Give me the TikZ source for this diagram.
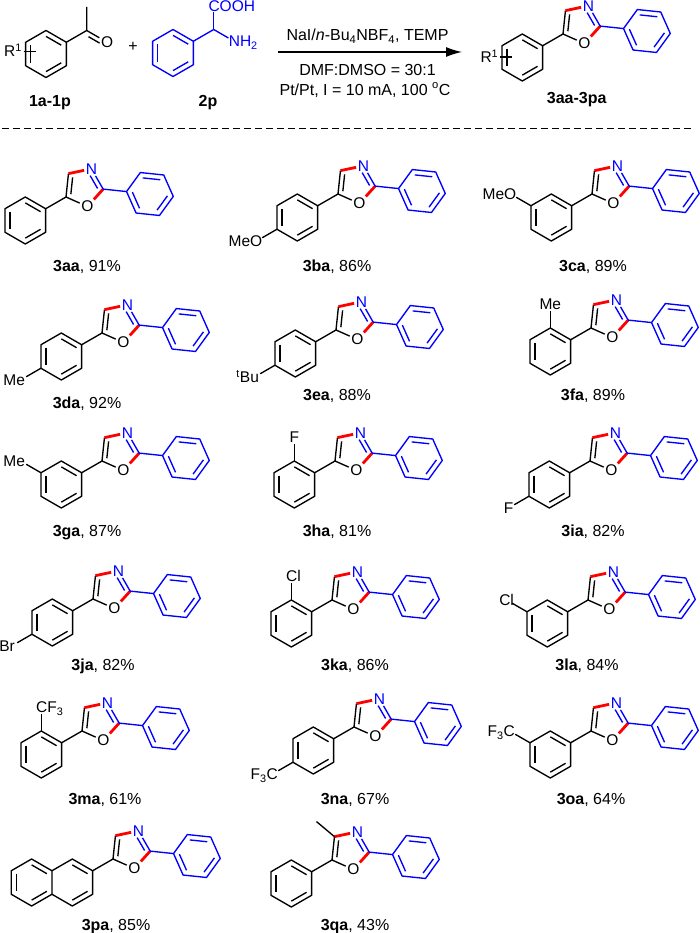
\documentclass[tikz,border=0pt]{standalone}
\usepackage{fontspec}
\setmainfont{Liberation Sans}
\usetikzlibrary{calc,arrows.meta}

\tikzset{
  bond/.style={line width=1.35pt, line join=round},
  redbond/.style={line width=2.8pt, red},
  bluebond/.style={bond, blue},
  atom/.style={inner sep=1.5pt, font=\fontsize{15.5}{15.5}\selectfont, text height=10.8pt, text depth=0pt},
  cpdlbl/.style={font=\fontsize{16}{16}\selectfont, inner sep=0pt, anchor=base},
  cond/.style={font=\fontsize{16}{16}\selectfont, inner sep=0pt, anchor=base},
}

% inner line of a ring double bond: centre, two ring atoms
\newcommand{\dbl}[4][bond]{\draw[#1] ($(#2)!0.75!(#3)$) -- ($(#2)!0.75!(#4)$);}

% oxazole with its blue 2-phenyl, C5 at the origin
\newcommand{\oxaz}{%
  \coordinate (c5) at (0,0);
  \coordinate (oc) at (30:0.85);
  \coordinate (c4) at ($(oc)+(138:0.85)$);
  \coordinate (c2) at ($(oc)+(-6:0.85)$);
  \node[atom, text=blue] (n3) at ($(oc)+(66:0.85)$) {N};
  \node[atom] (o1) at ($(oc)+(-78:0.85)$) {O};
  \draw[bond] (o1) -- (c5) -- (c4);
  \draw[bond] ($(oc)!0.72!(c5)$) -- ($(oc)!0.72!(c4)$);
  \draw[redbond] (c4) -- (n3);
  \draw[redbond] (c2) -- (o1);
  \draw[bluebond] (n3) -- (c2);
  \draw[bluebond, shorten <=2pt] ($(oc)!0.72!(n3)$) -- ($(oc)!0.72!(c2)$);
  \coordinate (pc) at ($(c2)+(-6:2)$);
  \foreach \a [count=\i from 0] in {174,234,...,474}
    \coordinate (p\i) at ($(pc)+(\a:1)$);
  \draw[bluebond] (c2) -- (p0);
  \draw[bluebond] (p0) -- (p1) -- (p2) -- (p3) -- (p4) -- (p5) -- cycle;
  \dbl[bluebond]{pc}{p0}{p1}\dbl[bluebond]{pc}{p2}{p3}\dbl[bluebond]{pc}{p4}{p5}}

% benzene ring hanging from C5
\newcommand{\arylring}{%
  \coordinate (ac) at (210:2);
  \foreach \a in {30,90,...,330}
    \coordinate (r\a) at ($(ac)+(\a:1)$);
  \draw[bond] (c5) -- (r30);
  \draw[bond] (r30) -- (r90) -- (r150) -- (r210) -- (r270) -- (r330) -- cycle;
  \dbl{ac}{r90}{r30}\dbl{ac}{r150}{r210}\dbl{ac}{r270}{r330}}

% substituent: ring atom, direction, label options, label
\newcommand{\subst}[4]{%
  \coordinate (sb) at ($(#1)+(#2:1)$);
  \draw[bond, shorten >=6.5pt] (#1) -- (sb);
  \node[atom, #3] (sl) at (sb) {#4};}

% one product, C5 at (#1,#2) counted from the top left
\newcommand{\mol}[3]{\begin{scope}[shift={(#1pt,-#2pt)}, x=23.5pt, y=23.5pt]#3\end{scope}}

\begin{document}
\begin{tikzpicture}[x=1pt, y=1pt]
  \useasboundingbox (0,0) rectangle (700,-933);

  % acetophenone
  \begin{scope}[shift={(46pt,-54pt)}, x=23.5pt, y=23.5pt]
    \coordinate (kc) at (0,0);
    \foreach \a in {30,90,...,330}
      \coordinate (k\a) at (\a:1);
    \draw[bond] (k30) -- (k90) -- (k150) -- (k210) -- (k270) -- (k330) -- cycle;
    \dbl{kc}{k90}{k30}\dbl{kc}{k150}{k210}\dbl{kc}{k270}{k330}
    \coordinate (co) at ($(k30)+(30:1)$);
    \coordinate (me) at ($(co)+(90:1)$);
    \node[atom] (ok) at ($(co)+(-30:1)$) {O};
    \draw[bond] (k30) -- (co) -- (me);
    \draw[bond] (co) -- (ok);
    \draw[bond, shorten >=6pt] ($(co)!0.2!(ok.center)+(-120:0.19)$) -- ($(ok.center)+(-120:0.19)$);
    \node[atom, anchor=east] (rk) at (-0.95,0.12) {R\textsuperscript{1}};
    \coordinate (rin) at (-0.42,0.12);
    \draw[bond] (rk.east) -- (rin);
  \end{scope}
  \node[font=\fontsize{16}{16}\selectfont] (plus) at (133,-47) {+};

  % phenylglycine
  \begin{scope}[shift={(173pt,-53pt)}, x=23.5pt, y=23.5pt]
    \coordinate (gc) at (0,0);
    \foreach \a in {30,90,...,330}
      \coordinate (g\a) at (\a:1);
    \draw[bluebond] (g30) -- (g90) -- (g150) -- (g210) -- (g270) -- (g330) -- cycle;
    \dbl[bluebond]{gc}{g90}{g30}\dbl[bluebond]{gc}{g150}{g210}\dbl[bluebond]{gc}{g270}{g330}
    \coordinate (ca) at ($(g30)+(30:1)$);
    \coordinate (cooh) at ($(ca)+(90:1)$);
    \coordinate (nh) at ($(ca)+(-30:1)$);
    \draw[bluebond] (g30) -- (ca);
    \draw[bluebond, shorten >=6.5pt] (ca) -- (cooh);
    \draw[bluebond, shorten >=6.5pt] (ca) -- (nh);
    \node[atom, text=blue, anchor=west, xshift=-6.9pt] (cx) at (cooh) {COOH};
    \node[atom, text=blue, anchor=west, xshift=-6.9pt] (nx) at (nh) {NH\textsubscript{2}};
  \end{scope}

  % arrow and conditions
  \coordinate (ar1) at (278,-52);
  \coordinate (ar2) at (462,-52);
  \draw[bond, -{Latex[length=16pt, width=10pt]}] (ar1) -- (ar2);
  \node[cond] (cond1) at (367.5,-40.8) {NaI/\textit{n}-Bu\textsubscript{4}NBF\textsubscript{4}, TEMP};
  \node[cond] (cond2) at (367.5,-75.1) {DMF:DMSO = 30:1};
  \node[cond] (cond3) at (365,-95.1) {Pt/Pt, I = 10 mA, 100 \textsuperscript{o}C};

  % general product
  \mol{563}{34}{\oxaz\arylring
    \node[atom, anchor=east] (rp) at ($(ac)+(-0.95,0.02)$) {R\textsuperscript{1}};
    \coordinate (rpin) at ($(ac)+(-0.42,0.02)$);
    \draw[bond] (rp.east) -- (rpin);}

  \node[cpdlbl] (l1) at (50,-106.7) {\textbf{1a-1p}};
  \node[cpdlbl] (l2) at (208,-106.7) {\textbf{2p}};
  \node[cpdlbl] (l3) at (576.7,-103.5) {\textbf{3aa-3pa}};

  \coordinate (sep1) at (2,-128.3);
  \coordinate (sep2) at (693,-128.3);
  \draw[line width=1.2pt, dash pattern=on 7pt off 4pt] (sep1) -- (sep2);

  % row 1
  \mol{66}{197}{\oxaz\arylring}
  \mol{338}{194}{\oxaz\arylring\subst{r210}{210}{anchor=east, xshift=7.3pt}{MeO}}
  \mol{592}{194}{\oxaz\arylring\subst{r150}{150}{anchor=east, xshift=7.3pt}{MeO}}
  % row 2
  \mol{102}{333}{\oxaz\arylring\subst{r210}{210}{anchor=east, xshift=6pt}{Me}}
  \mol{336}{330}{\oxaz\arylring\subst{r210}{210}{anchor=east, xshift=6pt}{\textsuperscript{t}Bu}}
  \mol{591}{328}{\oxaz\arylring\subst{r90}{90}{}{Me}}
  % row 3
  \mol{102}{461}{\oxaz\arylring\subst{r150}{150}{anchor=east, xshift=6pt}{Me}}
  \mol{335}{461}{\oxaz\arylring\subst{r90}{90}{}{F}}
  \mol{590}{461}{\oxaz\arylring\subst{r210}{210}{}{F}}
  % row 4
  \mol{93}{599}{\oxaz\arylring\subst{r210}{210}{anchor=east, xshift=5pt}{Br}}
  \mol{332}{600}{\oxaz\arylring\subst{r90}{90}{anchor=west, xshift=-6.9pt}{Cl}}
  \mol{588}{600}{\oxaz\arylring\subst{r150}{150}{}{Cl}}
  % row 5
  \mol{82}{731}{\oxaz\arylring\subst{r90}{90}{anchor=west, xshift=-6.9pt}{CF\textsubscript{3}}}
  \mol{354}{727}{\oxaz\arylring\subst{r210}{210}{anchor=east, xshift=6.9pt}{F\textsubscript{3}C}}
  \mol{591}{731}{\oxaz\arylring\subst{r150}{150}{anchor=east, xshift=6.9pt}{F\textsubscript{3}C}}
  % row 6: naphthyl
  \mol{113}{859}{\oxaz
    \coordinate (ac) at (210:2);
    \coordinate (bc) at ($(ac)+(180:1.732)$);
    \foreach \a in {30,90,...,330}{
      \coordinate (r\a) at ($(ac)+(\a:1)$);
      \coordinate (l\a) at ($(bc)+(\a:1)$);}
    \draw[bond] (c5) -- (r30);
    \draw[bond] (r30) -- (r90) -- (r150) -- (r210) -- (r270) -- (r330) -- cycle;
    \draw[bond] (l30) -- (l90) -- (l150) -- (l210) -- (l270) -- (l330);
    \dbl{ac}{r90}{r30}\dbl{ac}{r270}{r330}
    \dbl{bc}{l90}{l30}\dbl{bc}{l150}{l210}\dbl{bc}{l270}{l330}}
  % 4-methyl
  \mol{332}{860}{\oxaz\arylring
    \coordinate (me4) at ($(c4)+(140:1)$);
    \draw[bond] (c4) -- (me4);}

  % yields
  \foreach \x/\y/\c/\v in {87/271/3aa/91, 337/271/3ba/86, 593/271/3ca/89,
      87/408/3da/92, 337/400/3ea/88, 593/400/3fa/89,
      87/536/3ga/87, 337/536/3ha/81, 593/536/3ia/82,
      103/670/3ja/82, 355/670/3ka/86, 587/670/3la/84,
      105/804/3ma/61, 355/804/3na/67, 591/804/3oa/64,
      116/930/3pa/85, 355/930/3qa/43}
    \node[cpdlbl] (y\c) at (\x,-\y) {\textbf{\c}, \v\%};
\end{tikzpicture}
\end{document}
